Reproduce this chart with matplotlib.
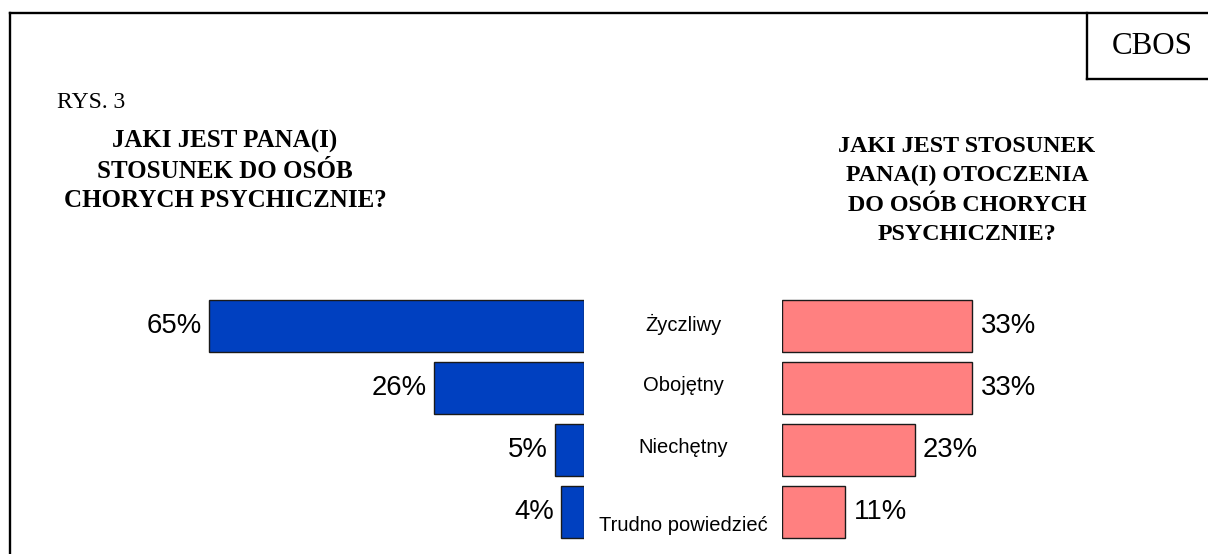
import matplotlib
matplotlib.use("Agg")
import matplotlib.pyplot as plt
from matplotlib.lines import Line2D
from matplotlib.transforms import blended_transform_factory

categories = ["Życzliwy", "Obojętny", "Niechętny", "Trudno powiedzieć"]
own_attitude = [65, 26, 5, 4]          # lewa strona
surroundings_attitude = [33, 33, 23, 11]  # prawa strona
own_labels = ["65%", "26%", "5%", "4%"]
surr_labels = ["33%", "33%", "23%", "11%"]

title_left = "JAKI JEST PANA(I)\nSTOSUNEK DO OSÓB\nCHORYCH PSYCHICZNIE?"
title_right = "JAKI JEST STOSUNEK\nPANA(I) OTOCZENIA\nDO OSÓB CHORYCH\nPSYCHICZNIE?"

W, H = 1208, 554
fig = plt.figure(figsize=(W / 100, H / 100), dpi=100)
fig.patch.set_facecolor("white")


def fx(px):
    return px / W


def fy(py):
    return 1 - py / H


# ramka
for xs, ys in [((10, W), (13, 13)), ((10, 10), (13, H)),
               ((1087, 1087), (13, 79)), ((1087, W), (79, 79))]:
    fig.add_artist(Line2D([fx(x) for x in xs], [fy(y) for y in ys],
                          color="black", lw=1.7, transform=fig.transFigure))

fig.text(fx(1152), fy(47), "CBOS", family="Liberation Serif", fontsize=22.3,
         ha="center", va="center")
fig.text(fx(57), fy(102), "RYS. 3", family="Liberation Serif", fontsize=17,
         ha="left", va="center")
fig.text(fx(225), fy(171), title_left, family="Liberation Serif", fontsize=18,
         fontweight="bold", ha="center", va="center", multialignment="center",
         linespacing=1.38)
fig.text(fx(967), fy(190.5), title_right, family="Liberation Serif", fontsize=17.3,
         fontweight="bold", ha="center", va="center", multialignment="center",
         linespacing=1.52)

px_per_unit = 5.77
xmax = 70
ax_w = xmax * px_per_unit
top, bottom = 295, 295 + 4 * 61.9

ax_l = fig.add_axes([fx(584 - ax_w), fy(bottom), fx(ax_w), (bottom - top) / H])
ax_r = fig.add_axes([fx(782), fy(bottom), fx(ax_w), (bottom - top) / H])

pos = list(range(len(categories)))
ax_l.barh(pos, own_attitude, height=0.84, color="#0040C0", edgecolor="#1a1a1a", lw=1)
ax_r.barh(pos, surroundings_attitude, height=0.84, color="#FF8080", edgecolor="#1a1a1a", lw=1)

for ax in (ax_l, ax_r):
    ax.set_xlim(0, xmax)
    ax.set_ylim(3.5, -0.5)
    ax.axis("off")
ax_l.invert_xaxis()

for p, v, t in zip(pos, own_attitude, own_labels):
    ax_l.annotate(t, (v, p), xytext=(-5, 0), textcoords="offset points",
                  ha="right", va="center", family="Liberation Sans", fontsize=19.8)
for p, v, t in zip(pos, surroundings_attitude, surr_labels):
    ax_r.annotate(t, (v, p), xytext=(6, 0), textcoords="offset points",
                  ha="left", va="center", family="Liberation Sans", fontsize=19.8)

tr = blended_transform_factory(fig.transFigure, ax_r.transData)
for p, c in zip(pos, categories):
    dy = 0.22 if c == "Trudno powiedzieć" else -0.03
    fig.text(fx(683), p + dy, c, transform=tr, ha="center", va="center",
             family="Liberation Sans", fontsize=14.5)

fig.savefig("out.png", dpi=100, facecolor="white")
